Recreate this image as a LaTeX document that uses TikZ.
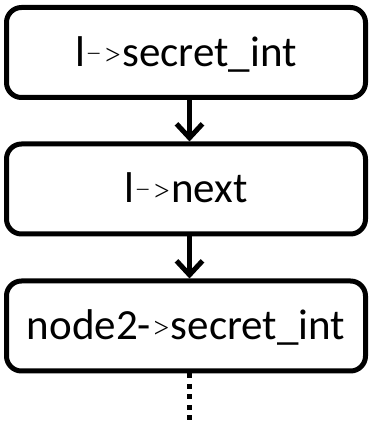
\documentclass[tikz,border=0pt]{standalone}
\usepackage{fontspec}
\setmainfont{Carlito}
\newfontfamily\lightfont{Lato Light}
\usetikzlibrary{arrows.meta}
\newcommand\smgt{{\lightfont\fontsize{34}{34}\selectfont >}}
\newcommand\thinarr{{\lightfont\fontsize{30}{30}\selectfont\raisebox{4pt}{–}}\smgt}
\tikzset{
  box/.style={draw, line width=5pt, rounded corners=15pt, minimum width=359pt,
    minimum height=90pt, inner sep=0pt, text height=32pt, text depth=4pt,
    font=\fontsize{43}{50}\selectfont},
  link/.style={line width=5pt, -{Straight Barb[length=14pt,width=26pt,line width=5pt]}},
  dots/.style={line width=5pt, dash pattern=on 5pt off 5.5pt}
}
\begin{document}
\begin{tikzpicture}[x=1pt,y=1pt]
\useasboundingbox (0,0) rectangle (368,424);
\node[box] (b1) at (186,371.5) {l\thinarr secret\_int};
\node[box] (b2) at (186,235) {l\thinarr next};
\node[box] (b3) at (186,98) {node2-\smgt secret\_int};
\coordinate (ax) at (189.5,0);
\coordinate (end) at (189.5,-2);
\draw[link] (b1.south -| ax) -- (b2.north -| ax);
\draw[link] (b2.south -| ax) -- (b3.north -| ax);
\draw[dots] (b3.south -| ax) -- (end);
\end{tikzpicture}
\end{document}
